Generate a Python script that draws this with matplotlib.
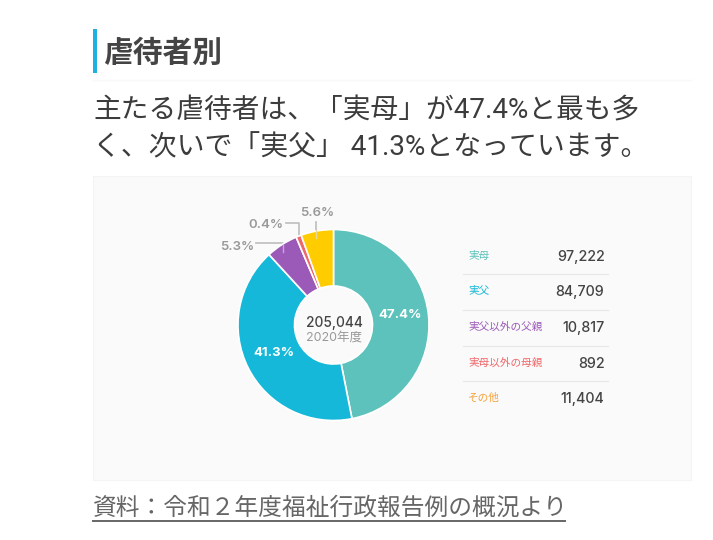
import matplotlib
matplotlib.use("Agg")
import matplotlib.pyplot as plt

JP = 'Noto Sans CJK JP'
plt.rcParams['font.family'] = [JP, 'DejaVu Sans']
BODY = ['Roboto', JP]
NUM = ['Inter', JP]

categories = ["実母", "実父", "実父以外の父親", "実母以外の母親", "その他"]
drawn_shares = [46.9, 41.3, 5.4, 0.9, 5.5]
value_labels = ["97,222", "84,709", "10,817", "892", "11,404"]
pct_labels = ["47.4%", "41.3%", "5.3%", "0.4%", "5.6%"]
wedge_colors = ["#5cc2bb", "#15b8d8", "#9b59b8", "#f0686a", "#ffcc00"]
legend_colors = ["#5cc2bb", "#15b8d8", "#9b59b8", "#f0686a", "#f5a23c"]
heading = "虐待者別"
body_lines = ["主たる虐待者は、「実母」が47.4%と最も多", "く、次いで「実父」 41.3%となっています。"]
source = "資料：令和２年度福祉行政報告例の概況より"
total_label = "205,044"
year_label = "2020年度"

W, H = 713, 540
PX = 100 / 72
fig = plt.figure(figsize=(W / 100, H / 100), dpi=100, facecolor="white")
bg = fig.add_axes([0, 0, 1, 1])
bg.set_xlim(0, W)
bg.set_ylim(H, 0)
bg.axis("off")

# heading
bg.fill_between([93, 96.5], 29, 73, color="#1eb0e0", lw=0)
bg.plot([93, 691], [79.5, 79.5], color="#f9f9f9", lw=1)
bg.text(103, 53, heading, fontsize=29.8 / PX, fontweight="bold", color="#444444", va="center", ha="left")

# body
bg.text(93, 110.5, body_lines[0], fontsize=27.7 / PX, color="#3c3c3c", va="center", ha="left", family=BODY)
bg.text(93, 148, body_lines[1], fontsize=27.9 / PX, color="#3c3c3c", va="center", ha="left", family=BODY)

# panel
bg.fill_between([93, 691], 176, 480, color="#fafafa", lw=0)
bg.plot([93, 691, 691, 93, 93], [176, 176, 480, 480, 176], color="#f4f4f4", lw=0.8)

# leader lines
lc = "#bdbdbd"
bg.plot([256, 283, 283], [243, 243, 252], color=lc, lw=1.2, zorder=2)
bg.plot([286, 298.5, 298.5], [223, 223, 239], color=lc, lw=1.2, zorder=4)
bg.plot([316, 316], [222, 238], color=lc, lw=1.2, zorder=4)
bg.text(237, 246.5, pct_labels[2], fontsize=13.2 / PX, fontweight="semibold", color="#999999", ha="center", va="center", family=NUM)
bg.text(266, 224.5, pct_labels[3], fontsize=13.2 / PX, fontweight="semibold", color="#999999", ha="center", va="center", family=NUM)
bg.text(317.5, 213.5, pct_labels[4], fontsize=13.2 / PX, fontweight="semibold", color="#999999", ha="center", va="center", family=NUM)

# donut
cx, cy, r, ri = 333.5, 325, 95.5, 39
pie_ax = fig.add_axes([(cx - r) / W, 1 - (cy + r) / H, 2 * r / W, 2 * r / H])
pie_ax.set_zorder(3)
pie_ax.patch.set_alpha(0)
pie_ax.pie(drawn_shares, colors=wedge_colors, startangle=90, counterclock=False, radius=1,
           wedgeprops=dict(width=1 - ri / r, edgecolor="white", linewidth=1.2))
pie_ax.set_xlim(-1, 1)
pie_ax.set_ylim(-1, 1)

over = fig.add_axes([0, 0, 1, 1])
over.set_xlim(0, W)
over.set_ylim(H, 0)
over.axis("off")
over.set_zorder(4)
over.text(400, 315.5, pct_labels[0], fontsize=13.2 / PX, fontweight="bold", color="white", ha="center", va="center", family=NUM)
over.text(274, 352.5, pct_labels[1], fontsize=13.2 / PX, fontweight="bold", color="white", ha="center", va="center", family=NUM)
over.text(334, 322.5, total_label, fontsize=13.7 / PX, fontweight="medium", color="#444444", ha="center", va="center", family=NUM)
over.text(334, 338, year_label, fontsize=12.5 / PX, color="#999999", ha="center", va="center", family=NUM)
over.plot([316, 316], [230, 238], color="#e8d9a0", lw=1)
over.plot([283, 283], [245, 252], color="#c9a6d8", lw=1)

# legend table
row_y = [256, 291, 327, 363, 398]
for i, (name, val, col) in enumerate(zip(categories, value_labels, legend_colors)):
    bg.text(468, row_y[i] - 0.5, name, fontsize=10.6 / PX, color=col, ha="left", va="center")
    bg.text(604.5, row_y[i] + 1, val, fontsize=14.3 / PX, fontweight="medium", color="#444444", ha="right", va="center", family=NUM)
    if i < len(categories) - 1:
        ly = (row_y[i] + row_y[i + 1]) / 2 + 0.5
        bg.plot([463, 608], [ly, ly], color="#e8e8e8", lw=0.9)

# source
bg.text(93, 508, source, fontsize=23.7 / PX, color="#666666", ha="left", va="center")
bg.plot([93, 565], [521, 521], color="#666666", lw=1.4)

fig.savefig("out.png", dpi=100, facecolor="white")
